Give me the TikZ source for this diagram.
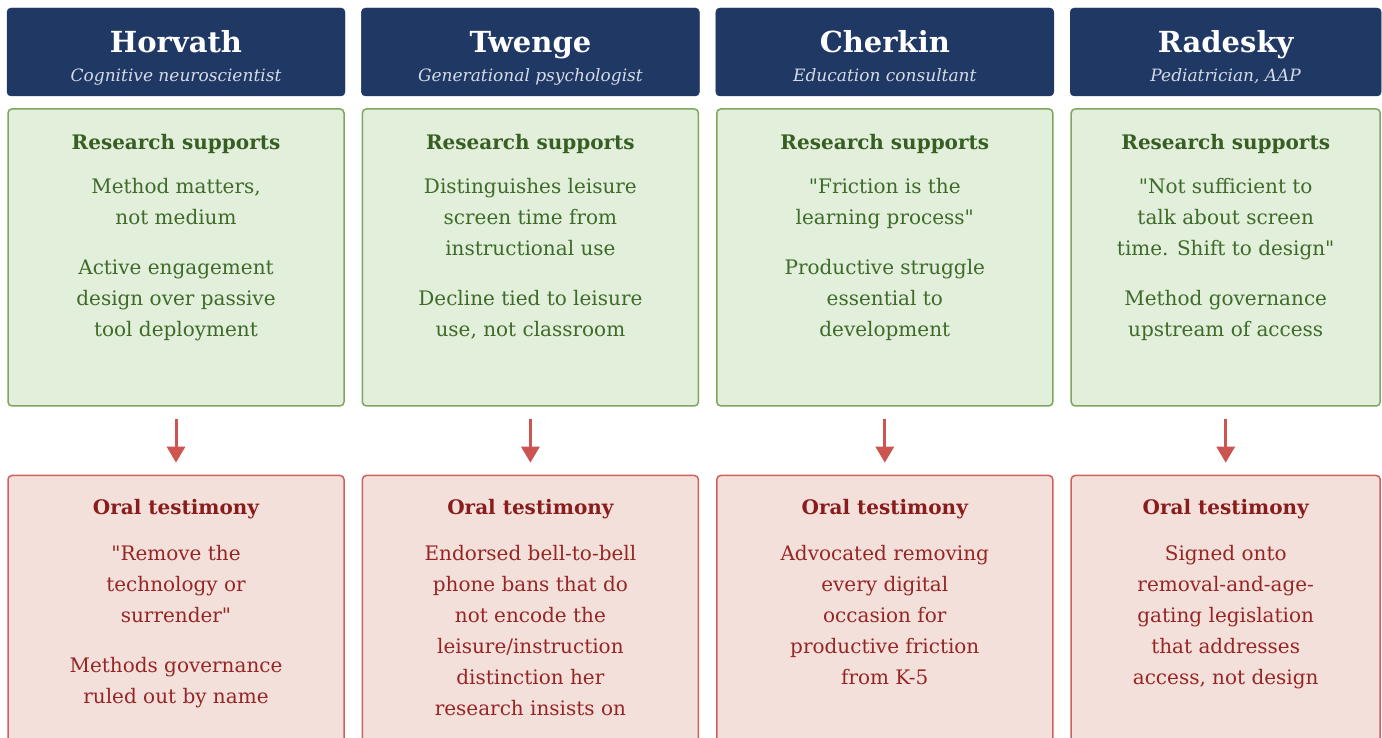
\documentclass[tikz,border=0pt]{standalone}
\usepackage{fontspec}
\setmainfont{DejaVu Serif}[Ligatures=TeXOff]
\usepackage{tikz}
\usetikzlibrary{arrows.meta,positioning}
\definecolor{navy}{HTML}{203864}
\definecolor{subgray}{HTML}{D5DCE8}
\definecolor{gfill}{HTML}{E2EFDA}
\definecolor{gline}{HTML}{7EA661}
\definecolor{gdark}{HTML}{375E23}
\definecolor{gtext}{HTML}{3E6A2A}
\definecolor{rfill}{HTML}{F4E0DA}
\definecolor{rline}{HTML}{D0605E}
\definecolor{rdark}{HTML}{891C1C}
\definecolor{rtext}{HTML}{962626}
\definecolor{arr}{HTML}{CC5552}
\tikzstyle{hd}=[rectangle,rounded corners=4pt,fill=navy,draw=navy,minimum width=338pt,minimum height=88pt,inner sep=0pt]
\tikzstyle{gb}=[rectangle,rounded corners=4pt,fill=gfill,draw=gline,line width=1.5pt,minimum width=336pt,minimum height=297pt,inner sep=0pt]
\tikzstyle{rb}=[rectangle,rounded corners=4pt,fill=rfill,draw=rline,line width=1.5pt,minimum width=336pt,minimum height=320pt,inner sep=0pt]
\tikzstyle{nm}=[anchor=base,text=white,font=\fontsize{29}{34}\selectfont\bfseries,inner sep=0pt]
\tikzstyle{job}=[anchor=base,text=subgray,font=\fontsize{17}{20}\selectfont\itshape,inner sep=0pt]
\tikzstyle{gh}=[anchor=base,text=gdark,font=\fontsize{20}{24}\selectfont\bfseries,inner sep=0pt]
\tikzstyle{gt}=[anchor=north,text=gtext,align=center,inner sep=0pt,font=\fontsize{20}{31}\selectfont,execute at begin node=\strut]
\tikzstyle{rh}=[anchor=base,text=rdark,font=\fontsize{20}{24}\selectfont\bfseries,inner sep=0pt]
\tikzstyle{rt}=[anchor=north,text=rtext,align=center,inner sep=0pt,font=\fontsize{20}{31}\selectfont,execute at begin node=\strut]
\tikzstyle{down}=[color=arr,line width=3pt,-{Triangle[width=18pt,length=16pt]},shorten <=12pt,shorten >=12pt]

\begin{document}
\begin{tikzpicture}
\useasboundingbox (0,0) rectangle (1382pt,-738pt);
\clip (0,0) rectangle (1382pt,-738pt);
 % header row
 \node[hd] (h1) at (176pt,-52pt) {};
 \node[hd] (h2) [right=16pt of h1] {};
 \node[hd] (h3) [right=16pt of h2] {};
 \node[hd,minimum width=311pt] (h4) [right=16pt of h3] {};
 \node[nm] (n1) at ([yshift=-1pt]h1.center) {Horvath};
 \node[nm] (n2) at ([yshift=-1pt]h2.center) {Twenge};
 \node[nm] (n3) at ([yshift=-1pt]h3.center) {Cherkin};
 \node[nm] (n4) at ([yshift=-1pt]h4.center) {Radesky};
 \node[job] (j1) at ([yshift=-30pt]h1.center) {Cognitive neuroscientist};
 \node[job] (j2) at ([yshift=-30pt]h2.center) {Generational psychologist};
 \node[job] (j3) at ([yshift=-30pt]h3.center) {Education consultant};
 \node[job] (j4) at ([yshift=-30pt]h4.center) {Pediatrician, AAP};
 % research boxes
 \node[gb] (g1) [below=12pt of h1] {};
 \node[gb] (g2) [below=12pt of h2] {};
 \node[gb] (g3) [below=12pt of h3] {};
 \node[gb,minimum width=309pt] (g4) [below=12pt of h4] {};
 \node[gh] (gh1) at ([yshift=-41pt]g1.north) {Research supports};
 \node[gh] (gh2) at ([yshift=-41pt]g2.north) {Research supports};
 \node[gh] (gh3) at ([yshift=-41pt]g3.north) {Research supports};
 \node[gh] (gh4) at ([yshift=-41pt]g4.north) {Research supports};
 \node[gt] (gt1) at ([yshift=-70pt]g1.north) {Method matters,\\ not medium\\[19pt] Active engagement\\ design over passive\\ tool deployment};
 \node[gt] (gt2) at ([yshift=-70pt]g2.north) {Distinguishes leisure\\ screen time from\\ instructional use\\[19pt] Decline tied to leisure\\ use, not classroom};
 \node[gt] (gt3) at ([yshift=-70pt]g3.north) {"Friction is the\\ learning process"\\[19pt] Productive struggle\\ essential to\\ development};
 \node[gt] (gt4) at ([yshift=-70pt]g4.north) {"Not sufficient to\\ talk about screen\\ time. Shift to design"\\[19pt] Method governance\\ upstream of access};
 % testimony boxes
 \node[rb] (r1) at ([yshift=-68pt]g1.south) [anchor=north] {};
 \node[rb] (r2) at ([yshift=-68pt]g2.south) [anchor=north] {};
 \node[rb] (r3) at ([yshift=-68pt]g3.south) [anchor=north] {};
 \node[rb,minimum width=309pt] (r4) at ([yshift=-68pt]g4.south) [anchor=north] {};
 \node[rh] (rh1) at ([yshift=-40pt]r1.north) {Oral testimony};
 \node[rh] (rh2) at ([yshift=-40pt]r2.north) {Oral testimony};
 \node[rh] (rh3) at ([yshift=-40pt]r3.north) {Oral testimony};
 \node[rh] (rh4) at ([yshift=-40pt]r4.north) {Oral testimony};
 \node[rt] (rt1) at ([yshift=-70pt]r1.north) {"Remove the\\ technology or\\ surrender"\\[19pt] Methods governance\\ ruled out by name};
 \node[rt] (rt2) at ([yshift=-70pt]r2.north) {Endorsed bell-to-bell\\ phone bans that do\\ not encode the\\ leisure/instruction\\ distinction her\\ research insists on};
 \node[rt] (rt3) at ([yshift=-70pt]r3.north) {Advocated removing\\ every digital\\ occasion for\\ productive friction\\ from K-5};
 \node[rt] (rt4) at ([yshift=-70pt]r4.north) {Signed onto\\ removal-and-age-\\ gating legislation\\ that addresses\\ access, not design};
 \path[down]
   (g1) edge (r1)
   (g2) edge (r2)
   (g3) edge (r3)
   (g4) edge (r4);
\end{tikzpicture}
\end{document}
